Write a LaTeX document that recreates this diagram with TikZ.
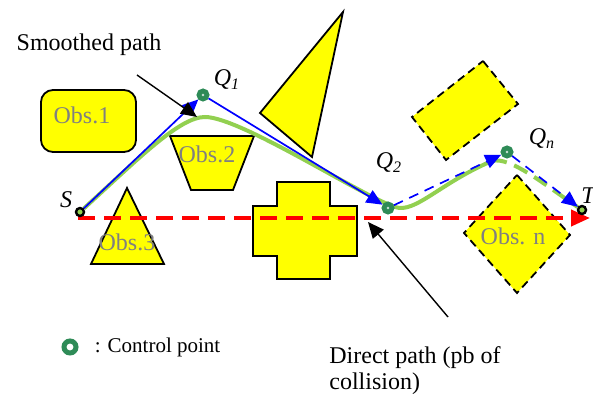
\documentclass[tikz,border=0pt]{standalone}
\usepackage{fontspec}
\setmainfont{Liberation Serif}
\usepackage{tikz}
\usetikzlibrary{arrows.meta,positioning,calc}
\usepackage{xcolor}
\definecolor{obsyellow}{RGB}{255,255,0}
\definecolor{pathgreen}{RGB}{146,208,80}
\definecolor{ctrlgreen}{RGB}{46,139,87}
\definecolor{obsgray}{RGB}{128,128,128}
\pgfdeclarelayer{back}
\pgfdeclarelayer{lines}
\pgfsetlayers{back,lines,main}
\tikzset{
  obs/.style={draw=black,fill=obsyellow,line width=0.9pt,line join=miter},
  obsdash/.style={obs,dash pattern=on 4pt off 2.5pt},
  obslabel/.style={text=obsgray,font=\fontsize{12}{14}\selectfont,inner sep=0pt},
  ctrl/.style={circle,draw=ctrlgreen,fill=ctrlgreen!30,line width=2.4pt,minimum size=4pt,inner sep=0pt},
  endpt/.style={circle,draw=black,fill=pathgreen,line width=1.2pt,minimum size=4pt,inner sep=0pt},
  ptlabel/.style={font=\fontsize{12}{14}\selectfont\itshape,inner sep=0pt},
  txt/.style={font=\fontsize{12}{13}\selectfont,inner sep=0pt},
  bluepath/.style={blue,line width=0.85pt,-{Triangle[length=8pt,width=7pt]}},
  bluedash/.style={bluepath,dash pattern=on 5pt off 3.5pt},
  greenpath/.style={pathgreen,line width=2pt},
  greendash/.style={greenpath,dash pattern=on 7.5pt off 4pt},
  redpath/.style={red,line width=2pt,dash pattern=on 8.5pt off 4.5pt,-{Triangle[length=9.5pt,width=8pt]}},
  pointer/.style={black,line width=0.7pt,-{Triangle[length=8pt,width=7pt]}}
}
\begin{document}
\begin{tikzpicture}[x=0.5pt,y=-0.5pt]
\useasboundingbox (0,0) rectangle (593,394);
\begin{pgfonlayer}{back}
\path[obs,rounded corners=6pt] (41,90) rectangle (136,152);
\path[obs] (170,136) -- (254,136) -- (233,190) -- (191,190) -- cycle;
\path[obs] (343,12) -- (312,157) -- (260,113) -- cycle;
\path[obs] (91,264) -- (127,188) -- (164,264) -- cycle;
\path[obs] (277,182) -- (330,182) -- (330,206) -- (357,206) -- (357,256) -- (330,256)
  -- (330,279) -- (277,279) -- (277,256) -- (253,256) -- (253,206) -- (277,206) -- cycle;
\path[obsdash] (483,61) -- (518,104) -- (446,160) -- (412,117) -- cycle;
\path[obsdash] (517,175) -- (570,235) -- (517,293) -- (464,233) -- cycle;
\end{pgfonlayer}

\node[obslabel] (obs1) at (82,115) {Obs.1};
\node[obslabel] (obs2) at (207,154) {Obs.2};
\node[obslabel] (obs3) at (127,242) {Obs.3};
\node[obslabel] (obsn) at (513,236) {Obs. n};

\node[endpt] (S) at (80,212) {};
\node[ctrl] (Q1) at (203,95) {};
\node[ctrl] (Q2) at (388,208) {};
\node[ctrl] (Qn) at (507,152) {};
\node[endpt] (T) at (582,210) {};

\node[ptlabel] (lS) at (66,200) {S};
\node[ptlabel] (lQ1) at (227,80) {Q\textsubscript{1}};
\node[ptlabel] (lQ2) at (389,163) {Q\textsubscript{2}};
\node[ptlabel] (lQn) at (542,139) {Q\textsubscript{n}};
\node[ptlabel] (lT) at (588,196) {T};

\coordinate (rs) at (78,218);
\coordinate (rt) at (590,218);
\coordinate (sm) at (137,75);
\coordinate (smtip) at (197,117);
\coordinate (dp) at (448,317);
\coordinate (dptip) at (368,222);

\begin{pgfonlayer}{lines}
\draw[redpath] (rs) -- (rt);
\draw[greenpath] (S) .. controls (140,157) and (180,117) .. (205,117)
  .. controls (240,117) and (360,195) .. (395,207)
  .. controls (415,214) and (440,183) .. (492,161) coordinate (gk);
\draw[greendash] (gk) .. controls (510,156) and (545,185) .. (T);
\draw[bluepath] (S) -- (Q1);
\draw[bluepath] (Q1) -- (Q2);
\draw[bluedash] (Q2) -- (Qn);
\draw[bluedash] (Qn) -- (T);
\end{pgfonlayer}

\node[txt] (smooth) at (89,45) {Smoothed path};
\draw[pointer] (sm) -- (smtip);
\node[txt,anchor=north west,align=left] (direct) at (329,346) {Direct path (pb of\\collision)};
\draw[pointer] (dp) -- (dptip);

\node[ctrl,fill=white,minimum size=6pt,line width=2.5pt] (key) at (70,347) {};
\node[txt,font=\fontsize{10.5}{12}\selectfont,right=8pt of key] (keytxt) {: Control point};
\end{tikzpicture}
\end{document}
